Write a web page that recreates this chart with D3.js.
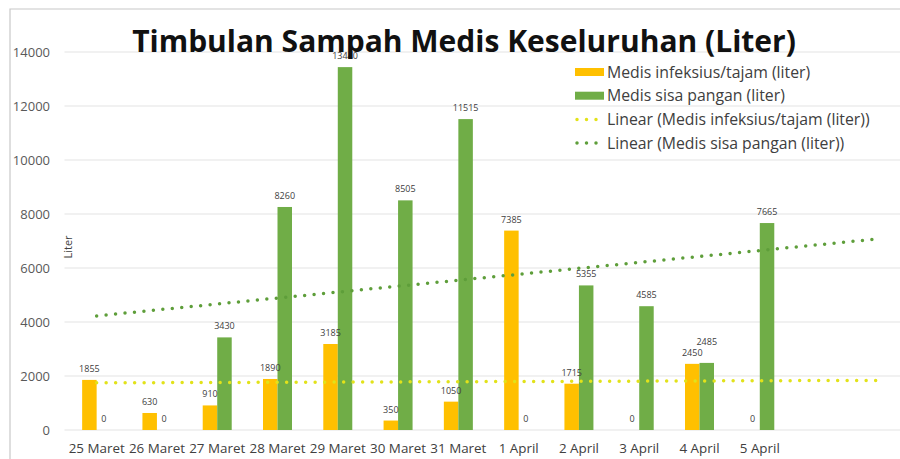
<!DOCTYPE html>
<html>
<head>
<meta charset="utf-8">
<script src="https://cdn.jsdelivr.net/npm/d3@7"></script>
<style>
  body { margin: 0; background: #fff; }
  svg { display: block; font-family: "Open Sans", Lato, sans-serif; }
</style>
</head>
<body>
<svg id="chart"></svg>
<script>
// Chart data
const categories = ["25 Maret", "26 Maret", "27 Maret", "28 Maret", "29 Maret", "30 Maret",
    "31 Maret", "1 April", "2 April", "3 April", "4 April", "5 April"];
const infeksius = [1855, 630, 910, 1890, 3185, 350, 1050, 7385, 1715, 0, 2450, 0];
const sisa_pangan = [0, 0, 3430, 8260, 13440, 8505, 11515, 0, 5355, 4585, 2485, 7665];
const series_names = ["Medis infeksius/tajam (liter)", "Medis sisa pangan (liter)"];
const trend_names = ["Linear (Medis infeksius/tajam (liter))", "Linear (Medis sisa pangan (liter))"];
const y_ticks = [0, 2000, 4000, 6000, 8000, 10000, 12000, 14000];
const forecast_forward = 2;

// Dimensions
const width = 900, height = 459;
const plot = { left: 66.5, right: 910.5, top: 52, bottom: 430 };
const colors = { infeksius: "#FFC000", sisa: "#70AD47", trend_inf: "#E2E21A", trend_sisa: "#5E9E3A" };

const svg = d3.select("#chart").attr("width", width).attr("height", height);

// Outer chart frame
svg.append("path")
    .attr("d", `M10,${height} L10,9 L${width},9`)
    .attr("fill", "none")
    .attr("stroke", "#c8c8c8")
    .attr("stroke-width", 1.2);

// Scales: category axis includes the forecast periods of the trend lines
const periods = d3.range(categories.length + forecast_forward);
const x_scale = d3.scaleBand()
    .domain(periods)
    .range([plot.left, plot.right]);
const bar_w = 14.5;
const x_series = d3.scaleBand()
    .domain(["infeksius", "sisa"])
    .range([x_scale.bandwidth() / 2 - bar_w, x_scale.bandwidth() / 2 + bar_w]);
const y_scale = d3.scaleLinear()
    .domain([0, 14000])
    .range([plot.bottom, plot.top]);

// Gridlines
svg.append("g")
    .selectAll("line")
    .data(y_ticks)
    .enter()
    .append("line")
    .attr("x1", plot.left - 2)
    .attr("x2", width)
    .attr("y1", d => y_scale(d))
    .attr("y2", d => y_scale(d))
    .attr("stroke", "#e3e3e3")
    .attr("stroke-width", 1);

// Y axis labels
const y_axis = d3.axisLeft(y_scale).tickValues(y_ticks).tickSize(0).tickPadding(0)
    .tickFormat(d3.format("d"));
const y_group = svg.append("g")
    .attr("transform", `translate(50, 0)`)
    .call(y_axis);
y_group.select(".domain").remove();
y_group.selectAll("text")
    .attr("fill", "#595959")
    .style("font-size", "13px")
    .style("font-family", "'Open Sans', sans-serif");

// X axis labels
const x_axis = d3.axisBottom(x_scale).tickSize(0).tickPadding(0)
    .tickFormat(i => categories[i] || "");
const x_group = svg.append("g")
    .attr("transform", `translate(0, 443)`)
    .call(x_axis);
x_group.select(".domain").remove();
x_group.selectAll("text")
    .attr("fill", "#404040")
    .style("font-size", "13.4px")
    .style("font-family", "'Open Sans', sans-serif");

// Y axis title
svg.append("text")
    .attr("transform", "translate(72, 247) rotate(-90)")
    .attr("text-anchor", "middle")
    .attr("fill", "#404040")
    .style("font-size", "11px")
    .text("Liter");

// Bars
const bar_data = [];
categories.forEach((c, i) => {
    bar_data.push({ i: i, key: "infeksius", value: infeksius[i] });
    bar_data.push({ i: i, key: "sisa", value: sisa_pangan[i] });
});

svg.append("g")
    .selectAll("rect")
    .data(bar_data.filter(d => d.value > 0))
    .enter()
    .append("rect")
    .attr("x", d => x_scale(d.i) + x_series(d.key))
    .attr("y", d => y_scale(d.value))
    .attr("width", x_series.bandwidth())
    .attr("height", d => y_scale(0) - y_scale(d.value))
    .attr("fill", d => d.key === "infeksius" ? colors.infeksius : colors.sisa);

// Linear trend lines (least squares, like the spreadsheet trendline)
function linear_fit(values) {
    const xs = values.map((v, i) => i + 1);
    const mx = d3.mean(xs), my = d3.mean(values);
    const sxy = d3.sum(xs, (x, i) => (x - mx) * (values[i] - my));
    const sxx = d3.sum(xs, x => (x - mx) * (x - mx));
    const slope = sxy / sxx;
    return x => my + slope * (x - mx);
}

const trend_line = d3.line()
    .x(d => x_scale(d.p) + x_scale.bandwidth() / 2)
    .y(d => y_scale(d.v));

[[infeksius, colors.trend_inf], [sisa_pangan, colors.trend_sisa]].forEach(([vals, col]) => {
    const fit = linear_fit(vals);
    const pts = [0, periods.length - 1].map(p => ({ p: p, v: fit(p + 1) }));
    svg.append("path")
        .attr("d", trend_line(pts))
        .attr("fill", "none")
        .attr("stroke", col)
        .attr("stroke-width", 3.5)
        .attr("stroke-linecap", "round")
        .attr("stroke-dasharray", "0 9.5");
});

// Data labels (a label is lifted when it collides with its neighbour in the same category)
const label_y = d => {
    let y = y_scale(d.value) - 8;
    if (d.key === "sisa") {
        const other = infeksius[d.i];
        if (other > 0 && Math.abs(y_scale(other) - y_scale(d.value)) < 10) y -= 10;
    }
    return y;
};
svg.append("g")
    .selectAll("text")
    .data(bar_data)
    .enter()
    .append("text")
    .attr("x", d => x_scale(d.i) + x_series(d.key) + x_series.bandwidth() / 2)
    .attr("y", label_y)
    .attr("text-anchor", "middle")
    .attr("fill", "#404040")
    .style("font-size", "9px")
    .text(d => d.value);

// Title
svg.append("text")
    .attr("x", 464)
    .attr("y", 52)
    .attr("text-anchor", "middle")
    .attr("fill", "#111")
    .style("font-size", "30px")
    .style("font-weight", "bold")
    .text("Timbulan Sampah Medis Keseluruhan (Liter)");

// Legend
const legend_items = [
    { name: series_names[0], color: colors.infeksius, type: "bar" },
    { name: series_names[1], color: colors.sisa, type: "bar" },
    { name: trend_names[0], color: colors.trend_inf, type: "trend" },
    { name: trend_names[1], color: colors.trend_sisa, type: "trend" }
];
const legend = svg.append("g")
    .selectAll(".legend-item")
    .data(legend_items)
    .enter()
    .append("g")
    .attr("class", "legend-item")
    .attr("transform", (d, i) => `translate(575, ${72 + i * 23.7})`);

legend.filter(d => d.type === "bar")
    .append("rect")
    .attr("x", 0)
    .attr("y", -4)
    .attr("width", 29)
    .attr("height", 8)
    .attr("fill", d => d.color);

legend.filter(d => d.type === "trend")
    .append("line")
    .attr("x1", 2)
    .attr("x2", 24)
    .attr("y1", 0)
    .attr("y2", 0)
    .attr("stroke", d => d.color)
    .attr("stroke-width", 3.5)
    .attr("stroke-linecap", "round")
    .attr("stroke-dasharray", "0 9.5");

legend.append("text")
    .attr("x", 32)
    .attr("y", 0)
    .attr("dy", "0.35em")
    .attr("fill", "#404040")
    .style("font-size", "15.8px")
    .text(d => d.name);
</script>
</body>
</html>
